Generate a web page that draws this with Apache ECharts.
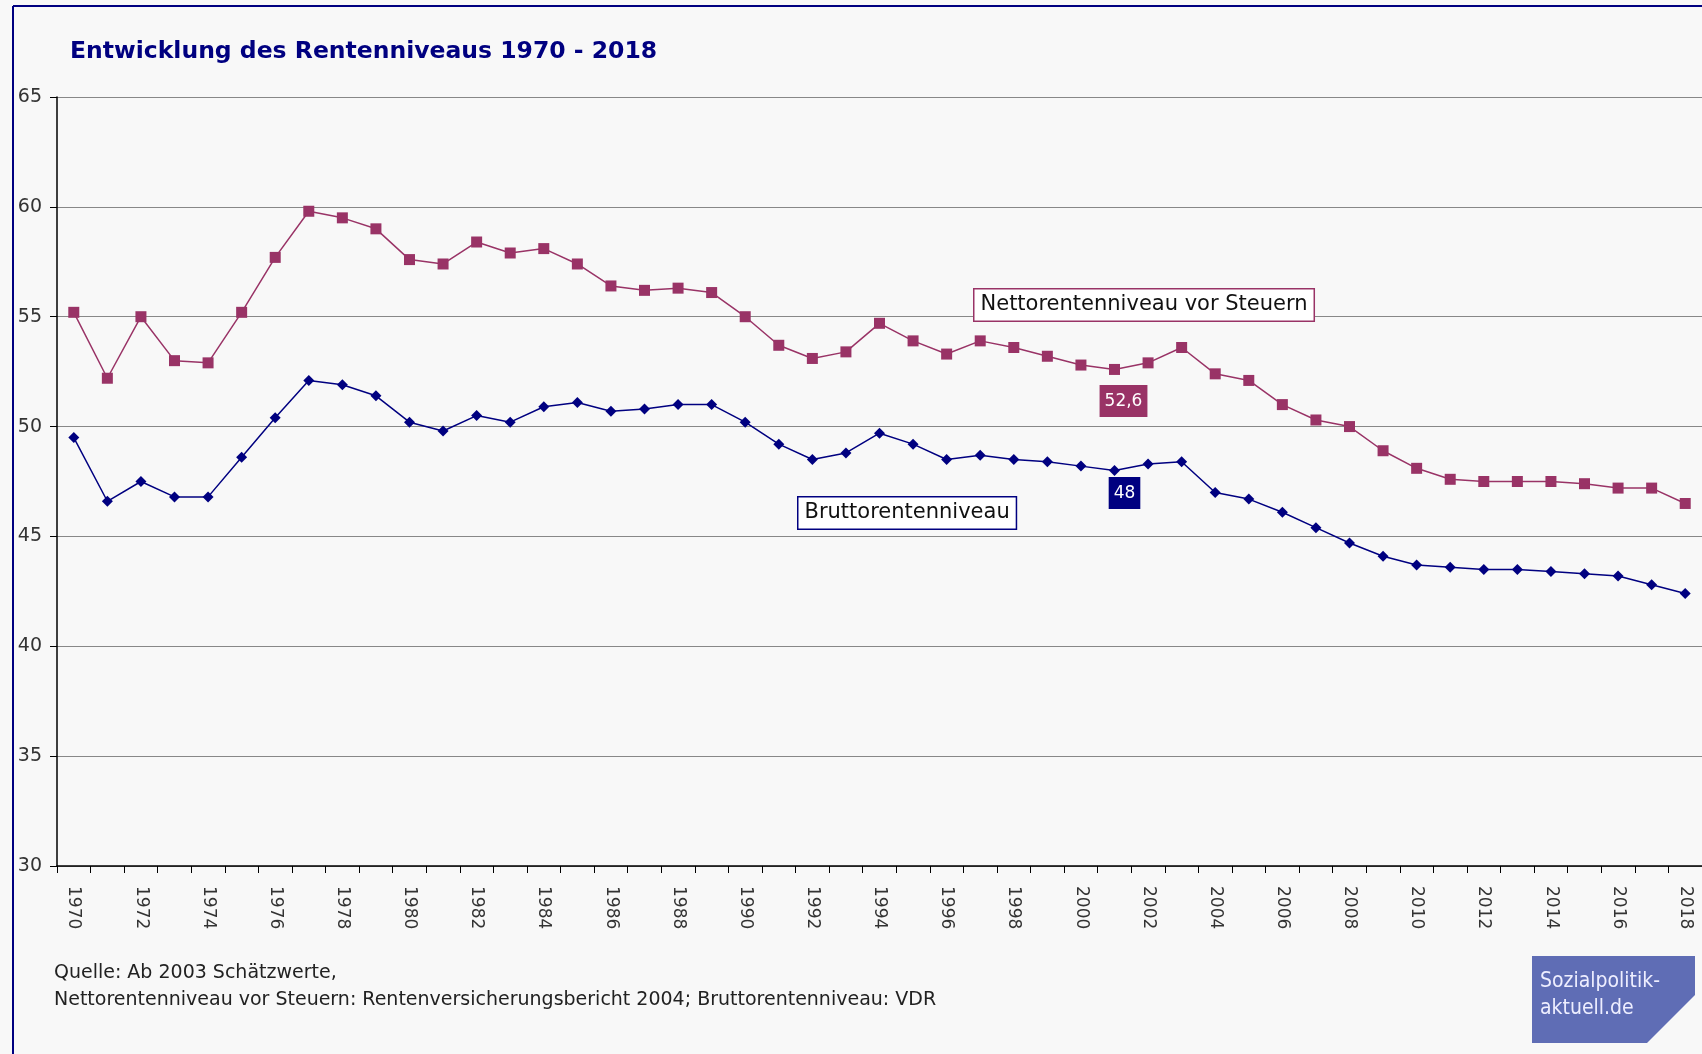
<!DOCTYPE html>
<html>
<head>
<meta charset="utf-8">
<script src="https://cdn.jsdelivr.net/npm/echarts@6/dist/echarts.min.js"></script>
<style>
html, body { margin: 0; padding: 0; background: #fff; }
#main { width: 1702px; height: 1054px; }
</style>
</head>
<body>
<div id="main"></div>
<script>
var myChart = echarts.init(document.getElementById('main'));

// Jahre 1970 - 2018
var years = [];
for (var y = 1970; y <= 2018; y++) { years.push(String(y)); }

// Nettorentenniveau vor Steuern
var netto = [55.2, 52.2, 55.0, 53.0, 52.9, 55.2, 57.7, 59.8, 59.5, 59.0,
             57.6, 57.4, 58.4, 57.9, 58.1, 57.4, 56.4, 56.2, 56.3, 56.1,
             55.0, 53.7, 53.1, 53.4, 54.7, 53.9, 53.3, 53.9, 53.6, 53.2,
             52.8, 52.6, 52.9, 53.6, 52.4, 52.1, 51.0, 50.3, 50.0, 48.9,
             48.1, 47.6, 47.5, 47.5, 47.5, 47.4, 47.2, 47.2, 46.5];

// Bruttorentenniveau
var brutto = [49.5, 46.6, 47.5, 46.8, 46.8, 48.6, 50.4, 52.1, 51.9, 51.4,
              50.2, 49.8, 50.5, 50.2, 50.9, 51.1, 50.7, 50.8, 51.0, 51.0,
              50.2, 49.2, 48.5, 48.8, 49.7, 49.2, 48.5, 48.7, 48.5, 48.4,
              48.2, 48.0, 48.3, 48.4, 47.0, 46.7, 46.1, 45.4, 44.7, 44.1,
              43.7, 43.6, 43.5, 43.5, 43.4, 43.3, 43.2, 42.8, 42.4];

var labelYear = '2001';
var nettoLabel = '52,6';
var bruttoLabel = '48';

var rot = '#993366';
var blau = '#000080';
var schrift = 'DejaVu Sans';

function withLabel(arr, text, color, offset) {
    return arr.map(function (v, i) {
        if (years[i] !== labelYear) return v;
        return {
            value: v,
            label: {
                show: true,
                position: 'bottom',
                offset: offset,
                formatter: text,
                color: '#fff',
                fontSize: 17,
                fontFamily: schrift,
                backgroundColor: color,
                padding: [8, 5, 7, 5]
            }
        };
    });
}

var option = {
    backgroundColor: '#f8f8f8',
    animation: false,
    title: {
        text: 'Entwicklung des Rentenniveaus 1970 - 2018',
        left: 65,
        top: 35,
        textStyle: { color: blau, fontSize: 23.5, fontWeight: 'bold', fontFamily: schrift }
    },
    grid: { left: 57, right: 0, top: 97, bottom: 188 },
    xAxis: {
        type: 'category',
        data: years,
        boundaryGap: true,
        axisLine: { lineStyle: { color: '#000', width: 1.5 } },
        axisTick: { show: true, interval: 0, alignWithLabel: false, length: 7, lineStyle: { color: '#000' } },
        axisLabel: {
            interval: 1,
            rotate: -90,
            margin: 20,
            color: '#333',
            fontSize: 17,
            fontFamily: schrift
        },
        splitLine: { show: false }
    },
    yAxis: {
        type: 'value',
        min: 30,
        max: 65,
        interval: 5,
        axisLine: { show: true, lineStyle: { color: '#000', width: 1.5 } },
        axisTick: { show: true, length: 7, lineStyle: { color: '#000' } },
        axisLabel: { color: '#333', fontSize: 19, margin: 15, fontFamily: schrift },
        splitLine: { lineStyle: { color: '#888', width: 1.2 } }
    },
    series: [
        {
            name: 'Nettorentenniveau vor Steuern',
            type: 'line',
            data: withLabel(netto, nettoLabel, rot, [9, 5]),
            symbol: 'rect',
            symbolSize: 11,
            itemStyle: { color: rot },
            lineStyle: { color: rot, width: 1.5 }
        },
        {
            name: 'Bruttorentenniveau',
            type: 'line',
            data: withLabel(brutto, bruttoLabel, blau, [10, -4]),
            symbol: 'diamond',
            symbolSize: 11,
            itemStyle: { color: blau },
            lineStyle: { color: blau, width: 1.5 }
        }
    ],
    graphic: [
        // Rahmen
        { type: 'line', shape: { x1: 13, y1: 6, x2: 1702, y2: 6 }, style: { stroke: blau, lineWidth: 2 } },
        { type: 'line', shape: { x1: 13, y1: 6, x2: 13, y2: 1054 }, style: { stroke: blau, lineWidth: 2 } },
        // Beschriftungen
        {
            type: 'text', left: 973, top: 288, z: 10,
            style: {
                text: 'Nettorentenniveau vor Steuern',
                fontSize: 21, fontFamily: schrift, fill: '#111',
                backgroundColor: '#fff', borderColor: rot, borderWidth: 1.5,
                padding: [5, 6, 5, 6]
            }
        },
        {
            type: 'text', left: 797, top: 496, z: 10,
            style: {
                text: 'Bruttorentenniveau',
                fontSize: 21, fontFamily: schrift, fill: '#111',
                backgroundColor: '#fff', borderColor: blau, borderWidth: 1.5,
                padding: [5, 6, 5, 6]
            }
        },
        // Quelle
        {
            type: 'text', left: 54, top: 960,
            style: {
                text: 'Quelle: Ab 2003 Schätzwerte,\nNettorentenniveau vor Steuern: Rentenversicherungsbericht 2004; Bruttorentenniveau: VDR',
                fontSize: 19, lineHeight: 27, fontFamily: schrift, fill: '#222'
            }
        },
        // Logo
        {
            type: 'polygon',
            shape: { points: [[1532, 956], [1695, 956], [1695, 995], [1647, 1043], [1532, 1043]] },
            style: { fill: '#5f6db5' }
        },
        {
            type: 'text', left: 1540, top: 968,
            style: {
                text: 'Sozialpolitik-\naktuell.de',
                fontSize: 21, lineHeight: 27, fontFamily: 'DejaVu Sans Condensed, Liberation Sans Narrow, sans-serif', fill: '#eef'
            }
        }
    ]
};

myChart.setOption(option);
</script>
</body>
</html>
